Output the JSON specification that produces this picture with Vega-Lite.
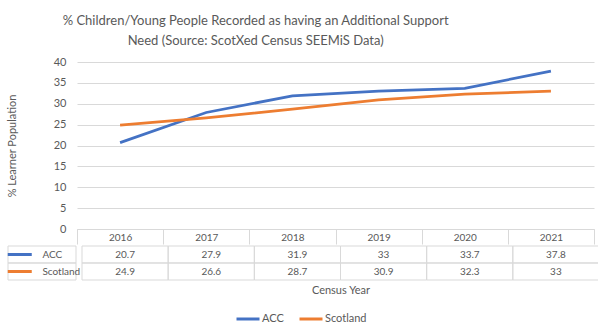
{
  "$schema": "https://vega.github.io/schema/vega-lite/v6.json",
  "background": "white",
  "padding": {"left": 1, "top": 15, "right": 3, "bottom": 4},
  "title": {
    "text": ["% Children/Young People Recorded as having an Additional Support", "Need (Source: ScotXed Census SEEMiS Data)"],
    "font": "Lato",
    "fontSize": 13,
    "fontWeight": "normal",
    "color": "#595959",
    "anchor": "middle",
    "dx": -45,
    "lineHeight": 20,
    "offset": 8
  },
  "datasets": {
    "census": [
      {"year": "2016", "series": "ACC", "value": 20.7},
      {"year": "2017", "series": "ACC", "value": 27.9},
      {"year": "2018", "series": "ACC", "value": 31.9},
      {"year": "2019", "series": "ACC", "value": 33},
      {"year": "2020", "series": "ACC", "value": 33.7},
      {"year": "2021", "series": "ACC", "value": 37.8},
      {"year": "2016", "series": "Scotland", "value": 24.9},
      {"year": "2017", "series": "Scotland", "value": 26.6},
      {"year": "2018", "series": "Scotland", "value": 28.7},
      {"year": "2019", "series": "Scotland", "value": 30.9},
      {"year": "2020", "series": "Scotland", "value": 32.3},
      {"year": "2021", "series": "Scotland", "value": 33}
    ]
  },
  "spacing": 0,
  "resolve": {"scale": {"x": "independent", "y": "independent"}},
  "vconcat": [
    {
      "spacing": 0,
      "resolve": {"scale": {"x": "independent", "y": "independent"}},
      "hconcat": [
        {
          "width": 68,
          "height": 167,
          "data": {"name": "census"},
          "transform": [{"filter": "false"}],
          "mark": {"type": "rule"},
          "encoding": {
            "y": {
              "field": "value",
              "type": "quantitative",
              "scale": {"domain": [0, 40], "nice": false},
              "axis": {
                "title": "% Learner Population",
                "values": [0, 5, 10, 15, 20, 25, 30, 35, 40],
                "offset": -68,
                "grid": false,
                "domain": false,
                "ticks": false,
                "labelPadding": 10,
                "titlePadding": 36
              }
            }
          }
        },
        {
          "width": 517,
          "height": 167,
          "data": {"name": "census"},
          "mark": {"type": "line", "strokeWidth": 2.75},
          "encoding": {
            "x": {
              "field": "year",
              "type": "ordinal",
              "bandPosition": 0.5,
              "scale": {"type": "band", "paddingInner": 0, "paddingOuter": 0},
              "axis": {
                "title": null,
                "labelAngle": 0,
                "labelFontSize": 10,
                "domainColor": "#d9d9d9",
                "tickColor": "#d9d9d9",
                "tickSize": 15,
                "tickBand": "extent",
                "labelBaseline": "middle",
                "labelPadding": -7,
                "grid": false
              }
            },
            "y": {
              "field": "value",
              "type": "quantitative",
              "scale": {"domain": [0, 40], "nice": false},
              "axis": {
                "title": null,
                "values": [0, 5, 10, 15, 20, 25, 30, 35, 40],
                "grid": true,
                "gridColor": "#d9d9d9",
                "labels": false,
                "domain": false,
                "ticks": false
              }
            },
            "color": {
              "field": "series",
              "type": "nominal",
              "scale": {"domain": ["ACC", "Scotland"], "range": ["#4472C4", "#ED7D31"]},
              "legend": {
                "orient": "bottom",
                "direction": "horizontal",
                "title": null,
                "symbolType": "stroke",
                "symbolSize": 529,
                "symbolStrokeWidth": 3,
                "labelOffset": 1,
                "columnPadding": 9,
                "offset": 11
              }
            }
          }
        }
      ]
    },
    {
      "spacing": 0,
      "resolve": {"scale": {"x": "independent", "y": "independent"}},
      "hconcat": [
        {
          "width": 68,
          "height": 34,
          "data": {"name": "census"},
          "transform": [{"filter": "datum.year === '2016'"}],
          "encoding": {
            "y": {
              "field": "series",
              "type": "nominal",
              "scale": {"domain": ["ACC", "Scotland"], "paddingInner": 0, "paddingOuter": 0},
              "axis": null
            }
          },
          "layer": [
            {"mark": {"type": "rect", "fill": "transparent", "stroke": "#d9d9d9", "strokeWidth": 1}},
            {
              "mark": {"type": "point", "shape": "stroke", "size": 576, "strokeWidth": 3, "filled": false, "opacity": 1},
              "encoding": {
                "x": {
                  "datum": "key",
                  "type": "nominal",
                  "scale": {"type": "point", "domain": ["key", "name"], "padding": 1.9286, "align": 0.2593},
                  "axis": null
                },
                "color": {
                  "field": "series",
                  "type": "nominal",
                  "scale": {"domain": ["ACC", "Scotland"], "range": ["#4472C4", "#ED7D31"]},
                  "legend": {
                    "orient": "bottom",
                    "direction": "horizontal",
                    "title": null,
                    "symbolType": "stroke",
                    "symbolSize": 529,
                    "symbolStrokeWidth": 3,
                    "labelOffset": 1,
                    "columnPadding": 9,
                    "offset": 11
                  }
                }
              }
            },
            {
              "mark": {"type": "text", "align": "left", "baseline": "middle"},
              "encoding": {
                "x": {"datum": "name", "type": "nominal"},
                "text": {"field": "series"}
              }
            }
          ]
        },
        {
          "width": 517,
          "height": 34,
          "data": {"name": "census"},
          "encoding": {
            "x": {
              "field": "year",
              "type": "ordinal",
              "scale": {"type": "band", "paddingInner": 0, "paddingOuter": 0},
              "axis": {"title": "Census Year", "labels": false, "ticks": false, "domain": false, "titlePadding": 4}
            },
            "y": {
              "field": "series",
              "type": "nominal",
              "scale": {"domain": ["ACC", "Scotland"], "paddingInner": 0, "paddingOuter": 0},
              "axis": null
            }
          },
          "layer": [
            {"mark": {"type": "rect", "fill": "transparent", "stroke": "#d9d9d9", "strokeWidth": 1}},
            {"mark": {"type": "text", "baseline": "middle"}, "encoding": {"text": {"field": "value", "type": "quantitative"}}}
          ]
        }
      ]
    }
  ],
  "config": {
    "view": {"stroke": null},
    "font": "Lato",
    "axis": {
      "labelFont": "Lato",
      "titleFont": "Lato",
      "labelColor": "#595959",
      "titleColor": "#595959",
      "labelFontSize": 11,
      "titleFontSize": 11,
      "titleFontWeight": "normal"
    },
    "legend": {
      "labelFont": "Lato",
      "labelColor": "#595959",
      "labelFontSize": 11,
      "layout": {"bottom": {"anchor": "middle"}}
    },
    "text": {"font": "Lato", "fontSize": 10, "color": "#595959"}
  }
}
